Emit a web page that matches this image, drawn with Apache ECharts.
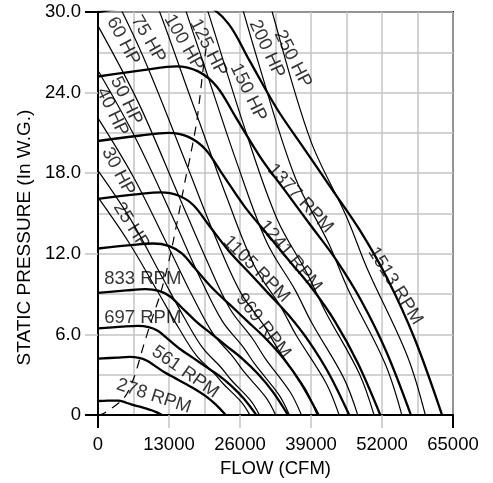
<!DOCTYPE html>
<html><head><meta charset="utf-8">
<script src="https://cdn.jsdelivr.net/npm/echarts/dist/echarts.min.js"></script>
<style>html,body{margin:0;padding:0;background:#fff}#c{width:493px;height:483px}</style>
</head><body><div id="c"></div>
<script>
const xTickLabels = ['0','13000','26000','39000','52000','65000'];
const yTickLabels = ['0','6.0','12.0','18.0','24.0','30.0'];

// RPM curves: [flow CFM, static pressure in W.G.]
const rpm278 = [[0,1.05],[1760,1.07],[2930,1.08],[3740,1.07],[4450,1.02],[5150,0.92],[6080,0.80],[7020,0.69],[7960,0.59],[8890,0.48],[9830,0.36],[10760,0.20],[11700,0]];
const rpm561 = [[0,4.2],[3510,4.28],[5850,4.33],[7490,4.26],[8890,4.07],[10300,3.70],[12170,3.19],[14040,2.77],[15910,2.35],[17780,1.93],[19660,1.43],[21530,0.80],[23400,0]];
const rpm697 = [[0,6.45],[4350,6.58],[7250,6.64],[9280,6.55],[11020,6.26],[12760,5.68],[15080,4.90],[17400,4.26],[19720,3.61],[22040,2.97],[24360,2.19],[26680,1.23],[29000,0]];
const rpm833 = [[0,9.1],[5220,9.28],[8700,9.37],[11140,9.24],[13220,8.83],[15310,8.01],[18100,6.92],[20880,6.01],[23660,5.10],[26450,4.19],[29230,3.09],[32020,1.73],[34800,0]];
const rpm969 = [[0,12.4],[6060,12.65],[10100,12.77],[12930,12.59],[15350,12.03],[17780,10.91],[21010,9.42],[24240,8.18],[27470,6.94],[30700,5.70],[33940,4.22],[37170,2.36],[40400,0]];
const rpm1105 = [[0,16.1],[6900,16.42],[11500,16.58],[14720,16.34],[17480,15.62],[20240,14.17],[23920,12.24],[27600,10.63],[31280,9.02],[34960,7.41],[38640,5.47],[42320,3.06],[46000,0]];
const rpm1241 = [[0,20.4],[7760,20.81],[12930,21.01],[16540,20.71],[19650,19.79],[22750,17.95],[26880,15.50],[31020,13.46],[35160,11.42],[39290,9.38],[43430,6.94],[47560,3.88],[51700,0]];
const rpm1377 = [[0,25.2],[8600,25.70],[14330,25.96],[18340,25.58],[21770,24.44],[25210,22.18],[29800,19.15],[34380,16.63],[38960,14.11],[43550,11.59],[48130,8.57],[52720,4.79],[57300,0]];
const rpm1513 = [[0,30],[9450,30.6],[15750,30.9],[20160,30.45],[23940,29.1],[27720,26.4],[32760,22.8],[37800,19.8],[42840,16.8],[47880,13.8],[52920,10.2],[57960,5.7],[63000,0]];

// Brake horsepower lines
const hp25 = [[0,16.2],[5570,12.9],[11140,9.05],[14810,6.46],[18040,4.42],[21100,3.19],[22880,2.35],[26290,0.95],[27820,0]];
const hp30 = [[0,18.2],[5920,14.6],[11840,10.2],[15730,7.3],[19170,5.0],[22420,3.6],[24310,2.65],[27950,1.07],[29560,0]];
const hp40 = [[0,22.1],[6510,17.7],[13030,12.4],[17310,8.84],[21100,6.04],[24680,4.36],[26760,3.21],[30770,1.30],[32540,0]];
const hp50 = [[0,25.65],[7020,20.5],[14040,14.4],[18640,10.26],[22730,7.01],[26590,5.06],[28830,3.73],[33140,1.50],[35050,0]];
const hp60 = [[0,28.97],[7460,23.2],[14910,16.2],[19820,11.6],[24150,7.92],[28250,5.72],[30630,4.21],[35210,1.70],[37250,0]];
const hp75 = [[0,33.6],[8030,26.9],[16070,18.8],[21340,13.4],[26020,9.19],[30430,6.63],[33000,4.88],[37930,1.97],[40120,0]];
const hp100 = [[0,40.7],[8840,32.6],[17680,22.8],[23490,16.3],[28640,11.1],[33490,8.04],[36320,5.92],[41750,2.39],[44160,0]];
const hp125 = [[0,47.3],[9520,37.8],[19050,26.5],[25320,18.9],[30850,12.9],[36080,9.32],[39130,6.87],[44980,2.77],[47570,0]];
const hp150 = [[0,53.4],[10120,42.7],[20240,29.9],[26900,21.3],[32780,14.6],[38340,10.5],[41580,7.75],[47790,3.13],[50550,0]];
const hp200 = [[0,64.6],[11140,51.7],[22280,36.2],[29610,25.9],[36080,17.7],[42200,12.8],[45760,9.39],[52610,3.79],[55640,0]];
const hp250 = [[0,75],[12000,60],[24000,42],[31900,30],[38870,20.5],[45460,14.8],[49300,10.9],[56630,4.4],[59940,0]];

// Dashed peak-pressure locus
const surgeLine = [[0,0],[1025,0.12],[4690,1.24],[6520,2.72],[8350,5.19],[9890,7.16],[11410,9.01],[12930,11.36],[14470,14.33],[15990,17.53],[16900,19.26],[18130,21.98],[19340,26.05],[19800,27.3]];

// Annotation texts with anchor in data coordinates
const labelTexts = ['60 HP','75 HP','100 HP','125 HP','150 HP','200 HP','250 HP','50 HP','40 HP','30 HP','25 HP',
  '833 RPM','697 RPM','561 RPM','278 RPM','969 RPM','1105 RPM','1241 RPM','1377 RPM','1513 RPM'];
const labelAnchors = [[4630,27.83],[9210,27.98],[15710,27.72],[20200,27.35],[27520,24.0],[30910,27.24],[35670,26.5],[5180,23.39],[2620,22.56],[3720,18.13],[6100,14.09],
  [8200,10.13],[8200,7.2],[15980,3.21],[10220,1.41],[30270,6.64],[28990,10.87],[35210,11.83],[37040,16.13],[54440,9.61]];
const labelAngles = [-62,-60,-60,-63,-64,-65,-63,-64,-64,-62,-58,
  0,0,-35,-18,-52,-45,-50,-47,-58];

const FONT = '"Liberation Sans", Arial, sans-serif';
const FS = 18.5;
const GRID = '#c4c4c4';

const rpmSets = [rpm278,rpm561,rpm697,rpm833,rpm969,rpm1105,rpm1241,rpm1377,rpm1513];
const hpSets = [hp25,hp30,hp40,hp50,hp60,hp75,hp100,hp125,hp150,hp200,hp250];

const series = [];
hpSets.forEach(d => series.push({type:'line', data:d, smooth:0.35, symbol:'none', silent:true,
  lineStyle:{color:'#000', width:1.2}, z:3}));
rpmSets.forEach(d => series.push({type:'line', data:d, smooth:0.35, symbol:'none', silent:true,
  lineStyle:{color:'#000', width:2.3}, z:4}));
series.push({type:'line', data:surgeLine, smooth:0.3, symbol:'none', silent:true,
  lineStyle:{color:'#000', width:1.2, type:[9,7]}, z:3});
series.push({type:'scatter', symbolSize:0, silent:true, z:6,
  data: labelTexts.map((t,i) => ({value:labelAnchors[i], label:{show:true, formatter:t, rotate:labelAngles[i],
    position:'inside', color:'#000', fontSize:FS, fontFamily:FONT}}))});

const chart = echarts.init(document.getElementById('c'), null, {renderer:'canvas'});
chart.setOption({
  animation:false,
  backgroundColor:'#fff',
  grid:{left:98, right:40, top:12, bottom:66, show:true, borderColor:'#000', borderWidth:2},
  xAxis:[{
    type:'value', min:0, max:65000, interval:13000,
    axisLine:{show:true, onZero:false, lineStyle:{color:'#000', width:2}},
    axisTick:{show:true, length:13, lineStyle:{color:GRID, width:1.5}},
    axisLabel:{color:'#000', fontSize:FS, fontFamily:FONT, margin:20,
      formatter:v => xTickLabels[Math.round(v/13000)]},
    splitLine:{show:true, lineStyle:{color:GRID, width:1.5}},
    minorTick:{show:false, splitNumber:2},
    minorSplitLine:{show:true, lineStyle:{color:GRID, width:1.5}},
    name:'FLOW (CFM)', nameLocation:'middle', nameGap:42,
    nameTextStyle:{color:'#000', fontSize:FS, fontFamily:FONT}
  },{
    type:'value', min:0, max:65000, interval:65000, position:'bottom',
    axisLine:{show:false}, axisLabel:{show:false}, splitLine:{show:false},
    axisTick:{show:true, length:13, lineStyle:{color:'#000', width:2}}
  }],
  yAxis:[{
    type:'value', min:0, max:30, interval:6,
    axisLine:{show:true, onZero:false, lineStyle:{color:'#000', width:2}},
    axisTick:{show:true, length:13, lineStyle:{color:GRID, width:1.5}},
    axisLabel:{color:'#000', fontSize:FS, fontFamily:FONT, margin:17,
      formatter:v => yTickLabels[Math.round(v/6)]},
    splitLine:{show:true, lineStyle:{color:GRID, width:1.5}},
    minorTick:{show:false, splitNumber:2},
    minorSplitLine:{show:true, lineStyle:{color:GRID, width:1.5}},
    name:'STATIC PRESSURE (In W.G.)', nameLocation:'middle', nameGap:63,
    nameTextStyle:{color:'#000', fontSize:19, fontFamily:FONT, padding:[0,48,0,0]}
  },{
    type:'value', min:0, max:30, interval:30, position:'left',
    axisLine:{show:false}, axisLabel:{show:false}, splitLine:{show:false},
    axisTick:{show:true, length:13, lineStyle:{color:'#000', width:2}}
  }],
  series: series
});
</script></body></html>
